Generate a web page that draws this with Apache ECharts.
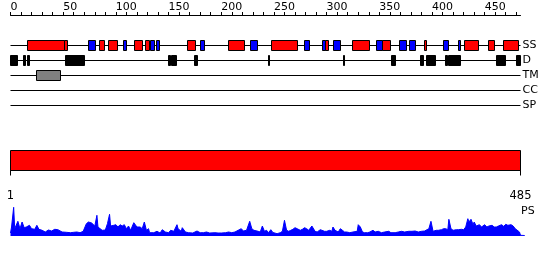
<!DOCTYPE html>
<html><head><meta charset="utf-8">
<script src="https://cdn.jsdelivr.net/npm/echarts@6/dist/echarts.min.js"></script>
<style>html,body{margin:0;padding:0;background:#fff}#c{width:550px;height:260px}</style>
</head><body><div id="c"></div>
<script>
// ---- data ----
const rows = ['SS', 'D', 'TM', 'CC', 'SP'];
const topTickLabels = [0, 50, 100, 150, 200, 250, 300, 350, 400, 450];
const topTicks = [0,10,20,30,40,50,60,70,80,90,100,110,120,130,140,150,160,170,180,190,200,210,220,230,240,250,260,270,280,290,300,310,320,330,340,350,360,370,380,390,400,410,420,430,440,450,460,470,480];
const seqStart = 1;
const seqEnd = 485;
const scaleLabels = [1, 485];
// secondary structure: helix (red), strand (blue)
const helix = [[16,51],[51,54],[84,89.5],[93,102],[117.5,125.5],[128.5,132],[168,176],[206.5,222.5],[248,272.5],[299,302],[325,341],[353,361],[392.5,395],[430.5,444],[453.5,459],[467.5,482]];
const strand = [[74,81],[107,110.5],[133,137],[139,141.5],[180,184],[228,234.5],[279,284],[296,299],[307,313],[347,353],[369.5,375.5],[378.5,384],[411,415.5],[425.5,427.5]];
const disorder = [[0,7],[12,14],[16,18],[52,70.5],[150,151.5],[152.5,158],[175,177.5],[244.5,246],[316,317],[362,365.5],[389.5,392],[394.5,403.5],[412.5,414.5],[416,427.5],[461,470],[480,484]];
const transmem = [[25,47]];
const coiled = [];
const signal = [];
// PS profile
const psPos = [0,1,3,4,7,9,11,13,15,18,20,23,25,27,30,33,36,39,42,45,49,53,57,60,63,66,69,72,74,77,80,82,83,87,90,92,94,95,98,100,102,104,106,108,110,112,114,117,120,121,123,125,127,129,131,132,136,139,142,144,147,150,152,155,158,159,162,163,166,169,173,177,180,183,186,189,194,197,200,204,207,210,213,216,219,221,224,227,229,231,235,237,239,241,243,245,247,249,253,256,258,260,262,264,266,268,270,272,275,277,279,281,283,286,287,289,291,294,295,298,300,303,305,306,308,311,313,315,317,319,322,325,329,330,332,334,336,339,341,344,346,349,352,355,359,361,365,368,371,374,378,381,384,387,390,393,397,399,401,404,406,409,411,413,415,416,418,420,423,425,428,430,432,434,435,437,439,440,442,445,447,450,452,454,457,459,461,463,466,468,470,472,475,477,479,483,484,488];
const psScore = [3,9,28.7,7.3,14.7,7.3,14,8.3,9,10.7,7.3,6.7,10.7,6.7,5.7,4,6,5,6.7,6.3,4,3.7,3.3,3.7,4,3.3,4.7,12.3,14,13,10,20.7,9,5.7,6,12.3,21.7,10,10.7,11.3,9,11.3,10,11.3,7.3,10,5.7,13.3,9,7.3,9,7.3,14,5.7,7.3,3.3,3.3,4.7,3,6.3,4,3.3,5.7,4.7,11.3,7.3,4.7,8.3,4,3.3,3,5,3.3,3.3,4,3,3.3,3,3,3.3,4,3.3,4,5.7,7.3,5,5.7,14.7,7.3,5.7,4.7,4,10,4.7,5.7,3.3,6.3,3.5,2.3,3.3,4.7,15.7,5.7,4.7,5.7,6.7,8.3,7.3,5.7,6.7,8.3,7.3,5.7,10,8,4.7,4,6.3,7.3,4.7,4.7,5.7,4.7,9,5.7,4,7.3,5.7,4,4,3.3,4,4.7,11.3,9,4,3.3,3.3,4,5.7,4,4.7,3.3,4,4.7,3.3,3.3,4,4.7,4,4.7,4.7,5,4,4.7,5,7.3,14.7,4.7,5.7,5.7,6.3,7.3,7.3,6.3,16.7,7.3,5.7,6.3,6.3,6.7,6.3,9,17.3,14,16.7,11.3,14,10,11.3,9,11.3,9,10,10.7,9,9,10,11.3,9.7,11.7,10.7,11.3,10,7.3,4,0.7,0.5];

// ---- build ----
const FONT = 'DejaVu Sans';
const kindColors = ['#ff0000', '#0000ff', '#000000', '#808080'];
const trackItems = [];
helix.forEach(d => trackItems.push([d[0], d[1], 0, 0]));
strand.forEach(d => trackItems.push([d[0], d[1], 0, 1]));
disorder.forEach(d => trackItems.push([d[0], d[1], 1, 2]));
transmem.forEach(d => trackItems.push([d[0], d[1], 2, 3]));
coiled.forEach(d => trackItems.push([d[0], d[1], 3, 0]));
signal.forEach(d => trackItems.push([d[0], d[1], 4, 0]));
const rowLines = rows.map((r, i) => [0, 484, i]);
const psData = psPos.map((p, i) => [p, psScore[i]]);

function snap(v) { return Math.round(v - 0.5) + 0.5; }

const chart = echarts.init(document.getElementById('c'), null, {renderer: 'canvas'});
chart.setOption({
  animation: false,
  backgroundColor: '#fff',
  grid: [
    {left: 10.5, width: 510, top: 37.5, height: 75},
    {left: 10.5, width: 510, top: 150.5, height: 20},
    {left: 10.5, width: 515.3, top: 200, height: 36}
  ],
  xAxis: [
    {gridIndex: 0, type: 'value', min: 0, max: 484, position: 'top', offset: 22.5,
     axisLine: {show: true, lineStyle: {color: '#000', width: 1}},
     axisTick: {show: true, length: 3, customValues: topTicks, lineStyle: {color: '#000'}},
     axisLabel: {customValues: topTickLabels, align: 'left', margin: 2, fontSize: 11, fontFamily: FONT, color: '#000'},
     splitLine: {show: false}},
    {gridIndex: 1, type: 'value', min: seqStart, max: seqEnd, position: 'bottom', offset: 10,
     axisLine: {show: true, lineStyle: {color: '#000', width: 1}},
     axisTick: {show: true, length: 5, customValues: scaleLabels, lineStyle: {color: '#000'}},
     axisLabel: {customValues: scaleLabels, margin: 10, fontSize: 11.5, fontFamily: FONT, color: '#000'},
     splitLine: {show: false}},
    {gridIndex: 2, type: 'value', min: 0, max: 489, show: false}
  ],
  yAxis: [
    {gridIndex: 0, type: 'category', data: rows, inverse: true, position: 'right',
     axisLine: {show: false}, axisTick: {show: false},
     axisLabel: {margin: 2, fontSize: 11, fontFamily: FONT, color: '#000'}},
    {gridIndex: 1, type: 'value', min: 0, max: 1, show: false},
    {gridIndex: 2, type: 'value', min: 0, max: 36, show: false}
  ],
  graphic: [
    {type: 'text', left: 521, top: 206, style: {text: 'PS', font: '11px "DejaVu Sans"', fill: '#000'}}
  ],
  series: [
    {type: 'custom', xAxisIndex: 0, yAxisIndex: 0, data: rowLines, z: 1, silent: true,
     renderItem: function (params, api) {
       const a = api.coord([api.value(0), api.value(2)]);
       const b = api.coord([api.value(1), api.value(2)]);
       const y = snap(a[1]);
       return {type: 'line', shape: {x1: snap(a[0]), y1: y, x2: snap(b[0]), y2: y},
               style: {stroke: '#000', lineWidth: 1}};
     }},
    {type: 'custom', xAxisIndex: 0, yAxisIndex: 0, data: trackItems, z: 2, silent: true,
     renderItem: function (params, api) {
       const a = api.coord([api.value(0), api.value(2)]);
       const b = api.coord([api.value(1), api.value(2)]);
       const x0 = snap(a[0]), x1 = snap(b[0]), yc = snap(a[1]);
       return {type: 'rect', shape: {x: x0, y: yc - 5, width: Math.max(x1 - x0, 1), height: 10},
               style: {fill: kindColors[api.value(3)], stroke: '#000', lineWidth: 1}};
     }},
    {type: 'custom', xAxisIndex: 1, yAxisIndex: 1, data: [[seqStart, seqEnd]], silent: true,
     renderItem: function (params, api) {
       const a = api.coord([api.value(0), 0]);
       const b = api.coord([api.value(1), 1]);
       return {type: 'rect', shape: {x: snap(a[0]), y: snap(b[1]), width: snap(b[0]) - snap(a[0]), height: snap(a[1]) - snap(b[1])},
               style: {fill: '#ff0000', stroke: '#000', lineWidth: 1}};
     }},
    {type: 'line', xAxisIndex: 2, yAxisIndex: 2, data: psData, showSymbol: false, silent: true,
     lineStyle: {color: '#0000ff', width: 1}, areaStyle: {color: '#0000ff', opacity: 1}}
  ]
});
</script></body></html>
